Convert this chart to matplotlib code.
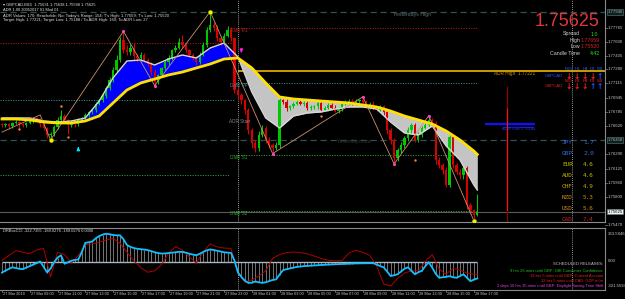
import matplotlib
matplotlib.use("Agg")
import matplotlib.pyplot as plt
import numpy as np
from matplotlib.transforms import blended_transform_factory as btf

plt.rcParams['font.family'] = ['Liberation Sans', 'DejaVu Sans']

# ---------------- data ----------------
first_open = 1.7664
closes = [1.7663, 1.7664, 1.7662, 1.7666, 1.7667, 1.7664, 1.7663, 1.7666, 1.7668, 1.7671,
          1.7670, 1.7664, 1.7660, 1.7652, 1.7653, 1.7661, 1.7669, 1.7674, 1.7669, 1.7663,
          1.7667, 1.7664, 1.7669, 1.7671, 1.7675, 1.7678, 1.7681, 1.7688, 1.7692, 1.7697,
          1.7706, 1.7716, 1.7727, 1.7739, 1.7762, 1.7750, 1.7748, 1.7753, 1.7743, 1.7741,
          1.7745, 1.7739, 1.7734, 1.7725, 1.7713, 1.7721, 1.7729, 1.7736, 1.7741, 1.7750,
          1.7753, 1.7760, 1.7756, 1.7750, 1.7745, 1.7741, 1.7736, 1.7745, 1.7756, 1.7774,
          1.7779, 1.7776, 1.7764, 1.7760, 1.7767, 1.7774, 1.7764, 1.7704, 1.7698, 1.7692,
          1.7681, 1.7657, 1.7642, 1.7637, 1.7652, 1.7660, 1.7646, 1.7640, 1.7637, 1.7640,
          1.7692, 1.7690, 1.7683, 1.7685, 1.7688, 1.7690, 1.7688, 1.7689, 1.7683, 1.7684,
          1.7685, 1.7689, 1.7681, 1.7683, 1.7687, 1.7683, 1.7680, 1.7682, 1.7688, 1.7690,
          1.7691, 1.7689, 1.7691, 1.7692, 1.7690, 1.7685, 1.7688, 1.7683, 1.7681, 1.7685,
          1.7678, 1.7657, 1.7646, 1.7625, 1.7634, 1.7640, 1.7648, 1.7657, 1.7663, 1.7646,
          1.7652, 1.7660, 1.7663, 1.7669, 1.7666, 1.7623, 1.7617, 1.7611, 1.7594, 1.7649,
          1.7617, 1.7609, 1.7605, 1.7613, 1.7570, 1.7564, 1.7559, 1.75625]
# wick lengths above / below the body, in pips
up_wick = [2, 1, 2, 1, 2, 1, 2, 1, 3, 2, 2, 1, 2, 1, 2, 2, 3, 7, 2, 1,
           2, 1, 2, 1, 2, 2, 1, 2, 2, 3, 2, 3, 4, 5, 4, 10, 6, 4, 5, 3,
           3, 2, 2, 2, 3, 2, 2, 3, 3, 2, 3, 4, 8, 3, 2, 2, 2, 3, 4, 3,
           16, 4, 3, 2, 3, 4, 3, 2, 3, 2, 2, 2, 3, 4, 4, 3, 2, 3, 2, 3,
           3, 2, 3, 2, 2, 2, 3, 2, 2, 2, 2, 2, 3, 2, 2, 2, 3, 2, 2, 2,
           2, 2, 3, 2, 4, 2, 2, 3, 2, 2, 2, 2, 3, 2, 2, 3, 2, 4, 3, 2,
           3, 2, 3, 5, 2, 2, 3, 2, 3, 3, 2, 2, 3, 2, 2, 3, 2, 21]
dn_wick = [2, 2, 3, 2, 2, 5, 2, 2, 2, 2, 2, 3, 3, 4, 7, 2, 2, 2, 3, 10,
           2, 3, 2, 2, 2, 2, 2, 3, 2, 2, 2, 2, 3, 2, 2, 3, 4, 3, 3, 4,
           3, 3, 2, 4, 4, 2, 2, 2, 3, 2, 2, 2, 3, 3, 3, 2, 3, 2, 2, 2,
           3, 3, 3, 4, 3, 2, 3, 4, 5, 4, 5, 4, 5, 5, 4, 3, 4, 3, 7, 3,
           3, 2, 3, 2, 2, 2, 2, 3, 2, 2, 2, 3, 2, 2, 3, 2, 2, 3, 2, 2,
           2, 2, 2, 3, 2, 2, 3, 2, 2, 3, 3, 4, 5, 7, 4, 3, 3, 3, 4, 3,
           3, 3, 2, 2, 4, 5, 4, 5, 3, 3, 4, 3, 5, 4, 4, 4, 7, 2]

ma_bars = [0, 4, 8, 12, 16, 20, 24, 28, 32, 36, 40, 44, 48, 52, 56, 60, 64, 68,
           72, 76, 80, 84, 88, 92, 96, 100, 104, 108, 112, 116, 120, 124, 128, 132, 136, 137]
ma_slow = [1.76702, 1.76702, 1.76691, 1.76667, 1.76656, 1.76656, 1.76679, 1.76737, 1.76888,
           1.77039, 1.77121, 1.77167, 1.77214, 1.77248, 1.77295, 1.77341, 1.77399, 1.77411,
           1.77295, 1.77121, 1.76958, 1.76935, 1.76923, 1.76911, 1.76900, 1.76888, 1.76865,
           1.76842, 1.76795, 1.76737, 1.76691, 1.76644, 1.76563, 1.76458, 1.76330, 1.76290]
ma_fast = [1.76714, 1.76714, 1.76714, 1.76679, 1.76667, 1.76679, 1.76714, 1.76911, 1.77179,
           1.77376, 1.77388, 1.77330, 1.77399, 1.77446, 1.77411, 1.77527, 1.77585, 1.77423,
           1.77016, 1.76714, 1.76598, 1.76737, 1.76772, 1.76784, 1.76818, 1.76842, 1.76842,
           1.76818, 1.76667, 1.76540, 1.76516, 1.76621, 1.76390, 1.76226, 1.75935, 1.75877]

zz_bars = [0, 11, 14, 35, 44, 60, 78, 104, 113, 123, 136]
zz_prices = [1.7655, 1.7675, 1.7646, 1.7772, 1.7709, 1.7795, 1.7630, 1.7696, 1.7618, 1.7674, 1.7552]
pink_pivots = [35, 44, 78, 104, 113, 123]
yellow_pivots = [14, 60, 136]
fractal_bars = [5, 17, 19, 92, 119]
fractal_prices = [1.7658, 1.7685, 1.7649, 1.7674, 1.7623]
buy_signal = (22, 1.7641)
sell_signal = (69, 1.7744)

yest_high, yest_low = 1.77946, 1.76458
bid = 1.75625
adr_high = 1.7726
left_levels = {"R": 1.7759, "PP": 1.7692, "S": 1.7605}
daily_r1, daily_pp, daily_s1, daily_s2 = 1.7776, 1.7712, 1.7628, 1.7563
blue_level = 1.76644
red_bar_top, red_bar_mid, red_bar_low = 1.7709, 1.7683, 1.7563

cci_main = [-143, -120, -95, -76, -85, -95, -99, -80, -60, -40, -20, 0, -70, -143, -90, -10,
            50, 81, -28, -10, 10, 20, 27, 120, 242, 250, 260, 300, 330, 350, 360, 355,
            345, 340, 340, 290, 215, 190, 175, 165, 160, 155, 148, 135, 120, 110, 103, 105,
            110, 115, 120, 125, 125, 115, 100, 90, 81, 100, 125, 145, 157, 150, 140, 130,
            120, 115, 112, 13, -143, -200, -250, -278, -275, -260, -270, -278, -270, -255,
            -240, -233, -170, -112, -100, -90, -80, -70, -65, -60, -57, -54, -50, -48, -45,
            -42, -40, -38, -35, -33, -31, -30, -28, -26, -25, -24, -23, -22, -22, -22, -40,
            -60, -76, -130, -188, -180, -166, -130, -95, -76, -120, -166, -140, -121, -60,
            -9, -80, -160, -211, -205, -200, -190, -205, -211, -190, -166, -210, -256, -235, -220]
cci_sig_bars = list(range(0, 137, 2)) + [137]
cci_sig = [13, 80, 140, 120, 103, 150, 170, -200, 120, 90, -22, 80, 215, 230, 250, 280, 300,
           238, 120, 10, -80, -140, -120, -40, 110, 193, 148, 60, -20, 125, 230, 190, 175, 170,
           -150, -270, -240, -190, -120, 40, 90, 115, 125, 115, 100, 70, 40, 15, 10, 13, 110,
           145, 120, 80, -60, -290, -321, -220, -150, -121, -121, 0, 90, -100, -166, -90,
           -110, -150, -166, -166]

time_label_bars = list(range(0, 137, 8))
time_labels = ["27 Mar 2019", "27 Mar 09:00", "27 Mar 11:00", "27 Mar 13:00", "27 Mar 15:00",
               "27 Mar 17:00", "27 Mar 19:00", "27 Mar 21:00", "27 Mar 23:00", "28 Mar 01:00",
               "28 Mar 03:00", "28 Mar 05:00", "28 Mar 07:00", "28 Mar 09:00", "28 Mar 11:00",
               "28 Mar 13:00", "28 Mar 15:00", "28 Mar 17:00"]
price_ticks = [1.77765, 1.77600, 1.77435, 1.77280, 1.77115, 1.76945, 1.76785, 1.76620,
               1.76290, 1.76125, 1.75960, 1.75800, 1.75470]
day_separators = [68, 164.3]

currencies = ["JPY", "GBP", "EUR", "AUD", "CHF", "NZD", "USD", "CAD"]
strengths = [1.7, 2.0, 4.6, 4.6, 4.9, 5.3, 5.6, 7.4]
cur_colors = ["#2F6FE8", "#2F6FE8", "#BDBD00", "#BDBD00", "#C8A800", "#D09010", "#D09010", "#E02020"]
timeframes = ["M15", "H1", "H4", "D1", "W1"]
mtf_row1 = [-1, -1, -1, -1, 1]
mtf_row2 = [-1, -1, -1, 1, 1]

# ---------------- figure ----------------
W, H = 625, 299
fig = plt.figure(figsize=(W / 100, H / 100), dpi=100, facecolor="black")


def T(x, y, s, **kw):
    kw.setdefault("va", "center")
    kw.setdefault("ha", "left")
    kw.setdefault("color", "#E0E0E0")
    fig.text(x / W, 1 - y / H, s, **kw)


ax = fig.add_axes([0, 1 - 222 / H, 605 / W, 222 / H])
ax2 = fig.add_axes([0, 1 - 289.5 / H, 605 / W, 62 / H])
for a in (ax, ax2):
    a.set_facecolor("black")
    a.set_xticks([])
    a.set_yticks([])
    a.set_xlim(-0.58, 173.8)
    for s in a.spines.values():
        s.set_color("#8A8A8A")
        s.set_linewidth(0.8)
    a.spines["left"].set_visible(False)
ax.spines["top"].set_visible(False)
ax.set_ylim(1.75505, 1.78085)
ax2.set_ylim(-364, 442)

# level lines
DOT = (0, (1.2, 1.4))
ax.axhline(yest_high, color="#2F5050", lw=0.9, ls=(0, (5, 3)), zorder=1)
ax.axhline(yest_low, color="#2F5050", lw=0.9, ls=(0, (5, 3)), zorder=1)
ax.axhline(bid, color="#5A5A5A", lw=0.8, zorder=1)
ax.hlines(left_levels["R"], -0.6, 66.6, color="#B01818", lw=0.7, ls=DOT, zorder=1)
ax.hlines(left_levels["PP"], -0.6, 67.1, color="#2A8C8C", lw=0.7, ls=DOT, zorder=1)
ax.hlines(left_levels["S"], -0.6, 65.7, color="#2E9A2E", lw=0.7, ls=DOT, zorder=1)
ax.hlines(daily_r1, 66.5, 137.2, color="#B01818", lw=0.7, ls=DOT, zorder=1)
ax.hlines(daily_pp, 66.5, 137.2, color="#2A8C8C", lw=0.7, ls=DOT, zorder=1)
ax.hlines(daily_s1, 66.5, 137.2, color="#2E9A2E", lw=0.7, ls=DOT, zorder=1)
ax.hlines(daily_s2, 66.5, 137.2, color="#2E9A2E", lw=0.7, ls=DOT, zorder=1)
ax.hlines(adr_high, 68, 173.8, color="#FFC800", lw=1.1, zorder=1)
ax.hlines(blue_level, 139.2, 153.6, color="#1010FF", lw=1.6, zorder=3)
ax.hlines(blue_level - 0.00035, 144.4, 153.0, color="#1010FF", lw=0.7, zorder=3)
ax.vlines(145.5, red_bar_mid, red_bar_top, color="#8B0000", lw=0.9, zorder=3)
ax.vlines(145.5, red_bar_low, red_bar_mid, color="#FF1010", lw=0.9, zorder=3)
ax.vlines(145.5, 1.75505, red_bar_low, color="#8B0000", lw=0.9, zorder=3)
for a in (ax, ax2):
    for b in day_separators:
        a.axvline(b, color="#C8C8C8", lw=0.6, ls=(0, (1, 1.5)), zorder=1)

# MA ribbon
mb = np.array(ma_bars)
ms = np.array(ma_slow)
mf = np.array(ma_fast)
ax.fill_between(mb, ms, mf, where=mf >= ms, interpolate=True, color="#0000FF", lw=0, zorder=2)
ax.fill_between(mb, ms, mf, where=mf < ms, interpolate=True, color="#C4C4C4", lw=0, zorder=2)

# candles
c = np.array(closes)
o = np.concatenate([[first_open], c[:-1]])
hi = np.maximum(o, c) + np.array(up_wick) * 1e-4
lo = np.minimum(o, c) - np.array(dn_wick) * 1e-4
bars = np.arange(len(c))
cols = np.where(c >= o, "#00C800", "#D80000")
ax.vlines(bars, lo, hi, colors=cols, lw=0.75, zorder=4)
ax.bar(bars, np.maximum(np.abs(c - o), 0.00006), bottom=np.minimum(o, c), width=0.66,
       color=cols, lw=0, zorder=5)

ax.plot(mb, mf, color="#D8D8D8", lw=1.0, zorder=6)
ax.plot(mb, ms, color="#FFE000", lw=2.0, zorder=7)

# zigzag & markers
ax.plot(zz_bars, zz_prices, color="#C89070", lw=0.6, zorder=6)
zzmap = dict(zip(zz_bars, zz_prices))
ax.scatter(pink_pivots, [zzmap[b] for b in pink_pivots], s=5, color="#FF40C0", zorder=8, lw=0)
ax.scatter(yellow_pivots, [zzmap[b] for b in yellow_pivots], s=12, color="#F0F000",
           edgecolor="#404000", lw=0.3, zorder=8)
ax.scatter(fractal_bars, fractal_prices, s=3, color="#FF8030", zorder=8, lw=0)
ax.annotate("", xy=buy_signal, xytext=(0, -5), textcoords="offset points",
            arrowprops=dict(arrowstyle="-|>", color="#00E8FF", lw=1.0, mutation_scale=4), zorder=9)
ax.annotate("", xy=sell_signal, xytext=(0, 5), textcoords="offset points",
            arrowprops=dict(arrowstyle="-|>", color="#FF20E0", lw=1.0, mutation_scale=4), zorder=9)

# level labels
lab = dict(fontsize=3.3, va="center", ha="left", zorder=9)
ax.text(65.8, daily_r1 - 0.0003, "Daily R1", color="#C02020", **lab)
ax.text(65.8, daily_pp - 0.0003, "Daily PP", color="#4A8A8A", **lab)
ax.text(65.3, 1.76676, "ADR Start", color="#8A8A8A", **lab)
ax.text(65.8, daily_s1 - 0.0003, "Daily S1", color="#2EA02E", **lab)
ax.text(65.8, daily_s2 - 0.0003, "Daily S2", color="#2EA02E", **lab)
ax.text(141.8, adr_high - 0.0003, "ADR High  1.77221", color="#D08A00", fontsize=3.4,
        va="center", ha="left")
ax.text(144.0, blue_level - 0.0006, "ADR Low 1.75188", color="#2030FF", fontsize=3.0,
        va="center", ha="left")
ax.text(123.8, yest_high - 0.00035, "Yesterdays High", color="#607070", fontsize=3.8,
        va="center", ha="right")
ax.text(96.5, yest_low - 0.0002, "Yesterdays Low", color="#303A3A", fontsize=3.4,
        va="center", ha="left")

# price axis
tr = btf(ax.transAxes, ax.transData)
for p in price_ticks:
    ax.plot([1.0, 1.004], [p, p], transform=tr, color="#8A8A8A", lw=0.5, clip_on=False)
    ax.text(1.004, p, f"{p:.5f}", transform=tr, fontsize=3.1, color="#C8C8C8",
            va="center", ha="left", clip_on=False)
for p, fc, tc in [(yest_high, "#102020", "#A0B0B0"), (yest_low, "#102020", "#A0B0B0"),
                  (bid, "#F0F0F0", "#000000")]:
    ax.text(1.004, p, f"{p:.5f}", transform=tr, fontsize=3.1, color=tc, va="center",
            ha="left", clip_on=False,
            bbox=dict(boxstyle="square,pad=0.15", fc=fc, ec="#5A8080", lw=0.4))

# sub-panel CCI
cb = np.arange(len(cci_main))
ax2.vlines(cb, 0, cci_main, colors="#B4B4B4", lw=0.45, zorder=2)
ax2.hlines(0, 0, 137, colors="#A8B4C4", lw=1.0, zorder=3)
ax2.plot(cci_sig_bars, cci_sig, color="#B00000", lw=0.7, zorder=4)
ax2.plot(cb, cci_main, color="#10C0FF", lw=1.3, zorder=5)
tr2 = btf(ax2.transAxes, ax2.transData)
for v, s in [(363.5846, "363.5846"), (0, "0.00"), (-321.5594, "-321.5594")]:
    ax2.text(1.004, v, s, transform=tr2, fontsize=3.1, color="#C8C8C8", va="center",
             ha="left", clip_on=False)
trx = btf(ax2.transData, ax2.transAxes)
for b, s in zip(time_label_bars, time_labels):
    ax2.plot([b, b], [0, -0.04], transform=trx, color="#8A8A8A", lw=0.5, clip_on=False)
    ax2.text(b + 0.3, -0.08, s, transform=trx, fontsize=2.8, color="#C8C8C8",
             va="center", ha="left", clip_on=False)

# header texts
T(3, 4.5, "\u25BE GBPCAD,M15  1.75631 1.75638 1.75588 1.75625", fontsize=2.9)
T(3, 10, "ADR 1.00 20052017 01 Mod 01", fontsize=2.9)
T(3, 15.5, "ADR Values: 170; Reachable: No; Today's Range: 154; T's High: 1.77659; T's Low: 1.75520",
  fontsize=3.0)
T(3, 20.5, "Target High: 1.77221; Target Low: 1.75188 / To ADR High: 160; To ADR Low: 27",
  fontsize=3.0)
T(3, 231, "DRBoxCCI -322.7355 -189.0276 -189.0276 0.0000", fontsize=2.9)

# price info block
T(600, 22, "1.75625", fontsize=13, color="#E03838", ha="right")
T(580, 34, "Spread", fontsize=3.8, ha="right", color="#D0D0D0")
T(598, 34, "1.0", fontsize=3.8, ha="right", color="#20E020")
T(580, 40.5, "High", fontsize=3.8, ha="right", color="#D0D0D0")
T(581, 40.5, "1.77659", fontsize=3.8, color="#D82020")
T(580, 47, "Low", fontsize=3.8, ha="right", color="#D0D0D0")
T(581, 47, "1.75520", fontsize=3.8, color="#D82020")
T(580, 53.5, "Candle Time", fontsize=3.8, ha="right", color="#D0D0D0")
T(600, 53.5, "4:42", fontsize=3.8, ha="right", color="#20E020")

# multi-timeframe arrows
ax_x = [569, 577, 585, 593, 600]
for row, (ly, ay, col, dirs) in enumerate([(69, 76, "#3050FF", mtf_row1),
                                           (81, 86.5, "#E02020", mtf_row2)]):
    T(563, ay, "GBPCAD", fontsize=3.2, ha="right", color=col)
    for x, tf, d in zip(ax_x, timeframes, dirs):
        T(x, ly, tf, fontsize=3.2, ha="center", color=col)
        T(x, ay, "\u2193" if d < 0 else "\u2191", fontsize=5.5, ha="center",
          color="#FF2020" if d < 0 else "#2050FF", fontweight="bold", family="DejaVu Sans")

# currency strength
for i, (cur, v, cc) in enumerate(zip(currencies, strengths, cur_colors)):
    y = 143 + i * 10.9
    T(562, y, cur, fontsize=4.3, color=cc, family="DejaVu Sans Mono")
    T(583, y, f"{v:.1f}", fontsize=4.3, color=cc, family="DejaVu Sans Mono")

# scheduled releases
T(603, 264, "SCHEDULED RELEASES:", fontsize=3.0, ha="right", color="#C8C8C8")
T(603, 270.5, "9 hrs 26 mins until GBP: GfK Consumer Confidence", fontsize=2.9, ha="right",
  color="#20C020")
T(603, 276, "19 hrs 5 mins until GBP: Current Account", fontsize=2.9, ha="right", color="#E02020")
T(603, 281, "12 hrs 5 mins until CAD: GDP m/m", fontsize=2.9, ha="right", color="#E02020")
T(603, 286.5, "2 days 10 hrs 35 mins until GBP: Daylight Saving Time Shift", fontsize=2.9,
  ha="right", color="#E040E0")

fig.savefig("out.png", dpi=100, facecolor="black")
